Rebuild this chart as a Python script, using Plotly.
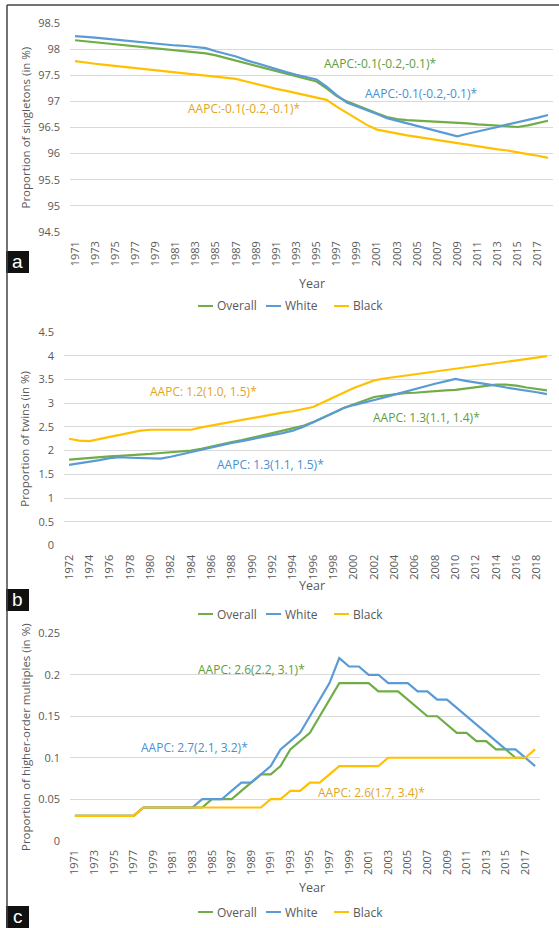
import plotly.graph_objects as go

W, H = 559, 928


def px(x):
    return x / W


def py(y):
    return 1 - y / H


# ---------------- data ----------------
years_a = list(range(1971, 2019))
years_b = list(range(1972, 2020))
years_c = list(range(1971, 2019))

series_names = ["Overall", "White", "Black"]
colors = {"Overall": "#70AD47", "White": "#5B9BD5", "Black": "#FFC000"}
text_colors = {"Overall": "#5E9E3C", "White": "#4A8FD3", "Black": "#E3A51C"}

sing_overall = [98.17, 98.15, 98.13, 98.11, 98.09, 98.07, 98.05, 98.04, 98.02, 98.00,
                97.98, 97.96, 97.94, 97.92, 97.88, 97.83, 97.78, 97.72, 97.67, 97.62,
                97.57, 97.52, 97.48, 97.43, 97.38, 97.25, 97.10, 97.00, 96.92, 96.85,
                96.77, 96.70, 96.66, 96.64, 96.63, 96.62, 96.61, 96.60, 96.60, 96.58,
                96.56, 96.55, 96.53, 96.52, 96.51, 96.54, 96.59, 96.63]
sing_white = [98.25, 98.24, 98.22, 98.20, 98.18, 98.16, 98.14, 98.13, 98.11, 98.09,
              98.07, 98.06, 98.04, 98.02, 97.96, 97.91, 97.86, 97.79, 97.73, 97.67,
              97.61, 97.56, 97.51, 97.46, 97.42, 97.28, 97.12, 96.98, 96.91, 96.84,
              96.76, 96.68, 96.63, 96.59, 96.54, 96.49, 96.44, 96.38, 96.33, 96.38,
              96.42, 96.47, 96.51, 96.56, 96.60, 96.65, 96.69, 96.74]
sing_black = [97.77, 97.74, 97.72, 97.70, 97.68, 97.66, 97.63, 97.61, 97.59, 97.57,
              97.55, 97.54, 97.52, 97.50, 97.48, 97.46, 97.43, 97.38, 97.33, 97.29,
              97.24, 97.20, 97.16, 97.12, 97.08, 97.03, 96.90, 96.78, 96.66, 96.55,
              96.46, 96.42, 96.38, 96.35, 96.32, 96.29, 96.26, 96.23, 96.19, 96.16,
              96.14, 96.11, 96.08, 96.06, 96.02, 95.99, 95.96, 95.92]

twin_overall = [1.81, 1.83, 1.84, 1.86, 1.88, 1.89, 1.90, 1.91, 1.93, 1.95,
                1.97, 1.98, 2.00, 2.04, 2.09, 2.13, 2.18, 2.22, 2.27, 2.31,
                2.36, 2.41, 2.46, 2.52, 2.60, 2.69, 2.79, 2.90, 2.98, 3.06,
                3.13, 3.16, 3.19, 3.21, 3.22, 3.24, 3.25, 3.27, 3.28, 3.31,
                3.34, 3.37, 3.39, 3.39, 3.37, 3.33, 3.30, 3.27]
twin_white = [1.70, 1.73, 1.76, 1.80, 1.84, 1.86, 1.85, 1.84, 1.84, 1.83,
              1.87, 1.92, 1.97, 2.02, 2.07, 2.11, 2.16, 2.20, 2.24, 2.29,
              2.33, 2.37, 2.42, 2.50, 2.60, 2.70, 2.80, 2.90, 2.96, 3.01,
              3.06, 3.12, 3.18, 3.24, 3.30, 3.36, 3.41, 3.46, 3.51, 3.47,
              3.44, 3.40, 3.37, 3.33, 3.30, 3.26, 3.23, 3.19]
twin_black = [2.25, 2.21, 2.20, 2.25, 2.29, 2.33, 2.37, 2.42, 2.44, 2.44,
              2.44, 2.44, 2.44, 2.49, 2.53, 2.57, 2.61, 2.65, 2.69, 2.73,
              2.76, 2.80, 2.83, 2.87, 2.92, 3.02, 3.12, 3.22, 3.32, 3.40,
              3.48, 3.52, 3.55, 3.58, 3.61, 3.64, 3.67, 3.70, 3.72, 3.75,
              3.78, 3.82, 3.84, 3.87, 3.91, 3.94, 3.96, 3.99]

hom_overall = [0.03, 0.03, 0.03, 0.03, 0.03, 0.03, 0.03, 0.04, 0.04, 0.04,
               0.04, 0.04, 0.04, 0.04, 0.05, 0.05, 0.05, 0.06, 0.07, 0.08,
               0.08, 0.09, 0.11, 0.12, 0.13, 0.15, 0.17, 0.19, 0.19, 0.19,
               0.19, 0.18, 0.18, 0.18, 0.17, 0.16, 0.15, 0.15, 0.14, 0.13,
               0.13, 0.12, 0.12, 0.11, 0.11, 0.10, 0.10, None]
hom_white = [0.03, 0.03, 0.03, 0.03, 0.03, 0.03, 0.03, 0.04, 0.04, 0.04,
             0.04, 0.04, 0.04, 0.05, 0.05, 0.05, 0.06, 0.07, 0.07, 0.08,
             0.09, 0.11, 0.12, 0.13, 0.15, 0.17, 0.19, 0.22, 0.21, 0.21,
             0.20, 0.20, 0.19, 0.19, 0.19, 0.18, 0.18, 0.17, 0.17, 0.16,
             0.15, 0.14, 0.13, 0.12, 0.11, 0.11, 0.10, 0.09]
hom_black = [0.03, 0.03, 0.03, 0.03, 0.03, 0.03, 0.03, 0.04, 0.04, 0.04,
             0.04, 0.04, 0.04, 0.04, 0.04, 0.04, 0.04, 0.04, 0.04, 0.04,
             0.05, 0.05, 0.06, 0.06, 0.07, 0.07, 0.08, 0.09, 0.09, 0.09,
             0.09, 0.09, 0.10, 0.10, 0.10, 0.10, 0.10, 0.10, 0.10, 0.10,
             0.10, 0.10, 0.10, 0.10, 0.10, 0.10, 0.10, 0.11]

y_titles = ["Proportion of singletons (in %)", "Proportion of twins (in %)",
            "Proportion of higher-order multiples (in %)"]
aapc_a = ["AAPC:-0.1(-0.2,-0.1)*", "AAPC:-0.1(-0.2,-0.1)*", "AAPC:-0.1(-0.2,-0.1)*"]
aapc_b = ["AAPC: 1.3(1.1, 1.4)*", "AAPC: 1.3(1.1, 1.5)*", "AAPC: 1.2(1.0, 1.5)*"]
aapc_c = ["AAPC: 2.6(2.2, 3.1)*", "AAPC: 2.7(2.1, 3.2)*", "AAPC: 2.6(1.7, 3.4)*"]
panel_letters = ["a", "b", "c"]

# ---------------- layout geometry (pixels) ----------------
FONT = "Open Sans"
GREY = "#595959"
panels = [
    dict(years=years_a, data=[sing_overall, sing_white, sing_black],
         xl=70, xr=553, yt=23, yb=232, yr=[94.5, 98.5], dt=0.5,
         xrange=[1970.5, 2018.5], leg_y=306, year_y=283, box=(251, 273),
         aapc=aapc_a, apos=[(380, 63), (421, 94), (244, 108)]),
    dict(years=years_b, data=[twin_overall, twin_white, twin_black],
         xl=64, xr=552, yt=332, yb=545.5, yr=[0, 4.5], dt=0.5,
         xrange=[1971.5, 2019.5], leg_y=614, year_y=585, box=(589, 611),
         aapc=aapc_b, apos=[(426, 417), (270, 464), (203, 391)]),
    dict(years=years_c, data=[hom_overall, hom_white, hom_black],
         xl=70, xr=540, yt=633.3, yb=840.7, yr=[0, 0.25], dt=0.05,
         xrange=[1970.5, 2018.5], leg_y=912, year_y=887, box=(906, 928),
         aapc=aapc_c, apos=[(251, 669), (194, 747), (371, 792)]),
]
# legend entries: (line start x, text start x) in pixels
legend_pos = [(198, 215), (266, 283), (334, 351)]

fig = go.Figure()
annotations = []
shapes = []
layout = dict(width=W, height=H, margin=dict(l=0, r=0, t=0, b=0, autoexpand=False),
              paper_bgcolor="white", plot_bgcolor="white", showlegend=False,
              font=dict(family=FONT, color=GREY, size=11))


def ann(text, x, y, size, color, angle=0, xanchor="center", family=FONT):
    return dict(text=text, xref="paper", yref="paper", x=px(x), y=py(y),
                xanchor=xanchor, yanchor="middle", textangle=angle, showarrow=False,
                font=dict(family=family, size=size, color=color))


for i, p in enumerate(panels):
    k = "" if i == 0 else str(i + 1)
    for name, vals in zip(series_names, p["data"]):
        fig.add_trace(go.Scatter(
            x=p["years"], y=vals, mode="lines", name=name,
            line=dict(color=colors[name], width=2.2),
            xaxis="x" + k, yaxis="y" + k, connectgaps=False))
    ticks = p["years"][::2]
    layout["xaxis" + k] = dict(
        domain=[px(p["xl"]), px(p["xr"])], range=p["xrange"], anchor="y" + k,
        tickmode="array", tickvals=ticks, ticktext=[str(t) for t in ticks],
        tickangle=-90, showgrid=False, zeroline=False, showline=False,
        ticks="", ticklabelstandoff=6, automargin=False,
        tickfont=dict(family=FONT, size=11, color=GREY), fixedrange=True)
    layout["yaxis" + k] = dict(
        domain=[py(p["yb"]), py(p["yt"])], range=p["yr"], anchor="x" + k,
        dtick=p["dt"], tick0=0, showgrid=True, gridcolor="#D9D9D9", gridwidth=1,
        zeroline=False, showline=False, ticks="", ticklabelstandoff=9, automargin=False,
        tickfont=dict(family=FONT, size=11, color=GREY), fixedrange=True)
    # y-axis title
    annotations.append(ann(y_titles[i], 25, (p["yt"] + p["yb"]) / 2, 11.5, GREY, angle=-90))
    # x-axis title
    annotations.append(ann("Year", 312, p["year_y"], 12.5, GREY))
    # AAPC labels
    for name, txt, (ax, ay) in zip(series_names, p["aapc"], p["apos"]):
        annotations.append(ann(txt, ax, ay, 12, text_colors[name]))
    # legend
    for name, (lx, tx) in zip(series_names, legend_pos):
        shapes.append(dict(type="line", xref="paper", yref="paper",
                           x0=px(lx), x1=px(lx + 15), y0=py(p["leg_y"]), y1=py(p["leg_y"]),
                           line=dict(color=colors[name], width=2)))
        annotations.append(ann(name, tx, p["leg_y"], 12, GREY, xanchor="left"))
    # panel letter box
    b0, b1 = p["box"]
    shapes.append(dict(type="rect", xref="paper", yref="paper", x0=px(6), x1=px(29),
                       y0=py(b1), y1=py(b0), fillcolor="#111111", line=dict(width=0)))
    annotations.append(ann(panel_letters[i], 17.5, (b0 + b1) / 2 - 1, 19, "white",
                           family="Liberation Sans"))

# outer frame (left and top edges)
shapes.append(dict(type="line", xref="paper", yref="paper", x0=px(7), x1=px(7),
                   y0=0, y1=py(5), line=dict(color="#444444", width=1.5)))
shapes.append(dict(type="line", xref="paper", yref="paper", x0=px(7), x1=1,
                   y0=py(5), y1=py(5), line=dict(color="#444444", width=1.5)))

layout["annotations"] = annotations
layout["shapes"] = shapes
fig.update_layout(**layout)
fig.write_html("out.html", config={"displayModeBar": False},
               post_script="document.body.style.margin='0';document.body.style.overflow='hidden';")
